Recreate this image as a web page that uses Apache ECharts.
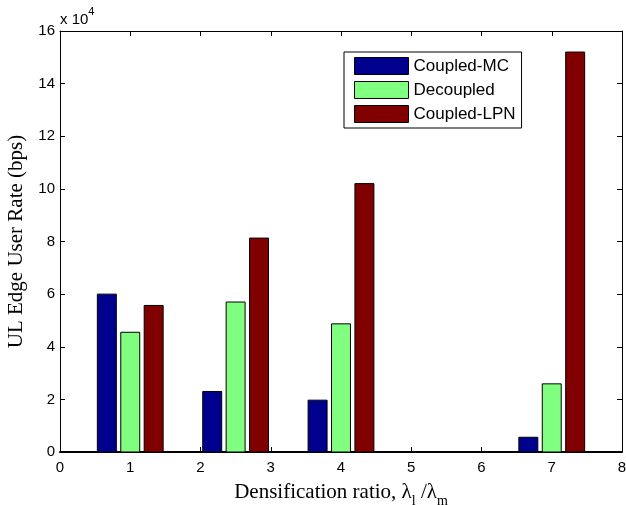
<!DOCTYPE html>
<html>
<head>
<meta charset="utf-8">
<script src="https://cdn.jsdelivr.net/npm/echarts@6/dist/echarts.min.js"></script>
<style>
  html, body { margin: 0; padding: 0; background: #fff; }
  #chart { width: 626px; height: 505px; }
</style>
</head>
<body>
<div id="chart"></div>
<script>
// densification ratio (x position of each bar group)
const ratios = [1, 2.5, 4, 7]
const seriesNames = ['Coupled-MC', 'Decoupled', 'Coupled-LPN']
const coupledMC = [60000, 23000, 19700, 5600]
const decoupled = [45500, 57000, 48700, 25900]
const coupledLPN = [55700, 81300, 102000, 152000]
const colors = ['#00008f', '#80ff80', '#800000']

const sans = 'Arial, "Liberation Sans", Helvetica, sans-serif'
const serif = '"Times New Roman", "Liberation Serif", serif'

const barW = 0.27
const offsets = [-1 / 3, 0, 1 / 3]

function barSeries(name, values, idx) {
  return {
    name: name,
    type: 'custom',
    itemStyle: { color: colors[idx], borderColor: '#000', borderWidth: 1 },
    data: ratios.map((r, i) => [r, values[i]]),
    renderItem: function (params, api) {
      const x = api.value(0) + offsets[idx]
      const p0 = api.coord([x - barW / 2, 0])
      const p1 = api.coord([x + barW / 2, api.value(1)])
      return {
        type: 'rect',
        shape: { x: p0[0], y: p1[1], width: p1[0] - p0[0], height: p0[1] - p1[1] },
        style: { fill: colors[idx], stroke: '#000', lineWidth: 1 }
      }
    },
    z: 3
  }
}

const chart = echarts.init(document.getElementById('chart'), null, { renderer: 'canvas' })
chart.setOption({
  animation: false,
  backgroundColor: '#fff',
  grid: { left: 60, top: 31, right: 4, bottom: 53, containLabel: false, outerBoundsMode: 'none' },
  legend: {
    orient: 'vertical',
    left: 344,
    top: 52,
    padding: [5, 6, 5, 10],
    itemGap: 6,
    itemWidth: 54,
    itemHeight: 17,
    icon: 'rect',
    borderColor: '#000',
    borderWidth: 1,
    backgroundColor: '#fff',
    borderRadius: 0,
    textStyle: { fontFamily: sans, fontSize: 17, color: '#000' },
    itemStyle: { borderColor: '#000', borderWidth: 1 },
    data: seriesNames
  },
  xAxis: [{
    type: 'value',
    min: 0,
    max: 8,
    interval: 1,
    name: '{a|Densification ratio, λ}{s|l}{a| /λ}{s|m}',
    nameLocation: 'middle',
    nameGap: 25,
    nameTextStyle: {
      rich: {
        a: { fontFamily: serif, fontSize: 21, color: '#000' },
        s: { fontFamily: serif, fontSize: 14, color: '#000', padding: [17, 0, 0, 0] }
      }
    },
    axisLine: { onZero: false, lineStyle: { color: '#000', width: 2 } },
    axisTick: { inside: true, length: 5, lineStyle: { color: '#000' } },
    axisLabel: { fontFamily: sans, fontSize: 15, color: '#000', margin: 8 },
    splitLine: { show: false }
  }, {
    type: 'value',
    position: 'top',
    min: 0,
    max: 8,
    interval: 1,
    axisLine: { onZero: false, lineStyle: { color: '#000', width: 1 } },
    axisTick: { inside: true, length: 5, lineStyle: { color: '#000' } },
    axisLabel: { show: false },
    splitLine: { show: false }
  }],
  yAxis: [{
    type: 'value',
    min: 0,
    max: 160000,
    interval: 20000,
    name: 'UL Edge User Rate (bps)',
    nameLocation: 'middle',
    nameGap: 31,
    nameTextStyle: { fontFamily: serif, fontSize: 21, color: '#000' },
    axisLine: { show: true, onZero: false, lineStyle: { color: '#000', width: 1 } },
    axisTick: { show: true, inside: true, length: 5, lineStyle: { color: '#000' } },
    axisLabel: {
      fontFamily: sans, fontSize: 15, color: '#000', margin: 5,
      formatter: v => String(v / 10000)
    },
    splitLine: { show: false }
  }, {
    type: 'value',
    position: 'right',
    min: 0,
    max: 160000,
    interval: 20000,
    axisLine: { show: true, onZero: false, lineStyle: { color: '#000', width: 1 } },
    axisTick: { show: true, inside: true, length: 5, lineStyle: { color: '#000' } },
    axisLabel: { show: false },
    splitLine: { show: false }
  }],
  graphic: [{
    type: 'text',
    left: 60,
    top: 6,
    style: {
      text: '{a|x 10}{b|4}',
      rich: {
        a: { fontFamily: sans, fontSize: 15, fill: '#000', padding: [6, 0, 0, 0] },
        b: { fontFamily: sans, fontSize: 11, fill: '#000', verticalAlign: 'top' }
      }
    }
  }],
  series: [
    barSeries(seriesNames[0], coupledMC, 0),
    barSeries(seriesNames[1], decoupled, 1),
    barSeries(seriesNames[2], coupledLPN, 2)
  ]
})
</script>
</body>
</html>
